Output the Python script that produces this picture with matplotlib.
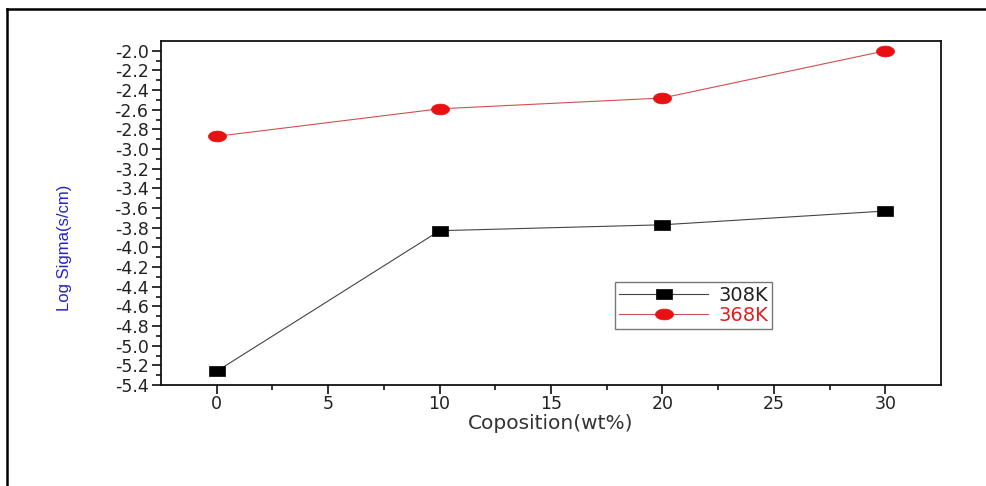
import numpy as np
import matplotlib
matplotlib.use("Agg")
from matplotlib import pyplot as plt
from matplotlib.lines import Line2D

composition = [0, 10, 20, 30]
sigma_308 = [-5.26, -3.83, -3.77, -3.63]
sigma_368 = [-2.87, -2.59, -2.48, -2.00]
series_labels = ["308K", "368K"]

plt.rcParams['font.family'] = ['DejaVu Sans']

# wide markers (the source picture is stretched sideways)
rect_marker = [(-1, -0.55), (1, -0.55), (1, 0.55), (-1, 0.55), (-1, -0.55)]
t = np.linspace(0, 2 * np.pi, 40)
ellipse_marker = list(zip(np.cos(t), 0.6 * np.sin(t)))

fig = plt.figure(figsize=(9.86, 4.86), dpi=100)
ax = fig.add_axes([161 / 986, 1 - 385 / 486, 780 / 986, 344 / 486])

ax.plot(composition, sigma_308, color="#444444", lw=0.8, marker=rect_marker, ms=12,
        mfc="black", mec="black", mew=0.5, label=series_labels[0])
ax.plot(composition, sigma_368, color="#d05050", lw=0.8, marker=ellipse_marker, ms=13,
        mfc="#e81010", mec="#e81010", mew=0.5, label=series_labels[1])

ax.set_xlim(-2.5, 32.5)
ax.set_ylim(-5.4, -1.9)
ax.set_xticks([0, 5, 10, 15, 20, 25, 30])
ax.set_xticks([2.5, 7.5, 12.5, 17.5, 22.5, 27.5], minor=True)
yt = [round(-5.4 + 0.2 * i, 1) for i in range(18)]
ax.set_yticks(yt)
ax.set_yticklabels(["%.1f" % v for v in yt])
ax.set_yticks([round(-5.3 + 0.2 * i, 1) for i in range(17)], minor=True)

ax.tick_params(which="major", direction="out", length=6.5, width=1.3,
               labelsize=12.5, colors="#222222", top=False, right=False)
ax.tick_params(axis="x", which="major", pad=1.0)
ax.tick_params(axis="y", which="major", pad=2.5)
ax.tick_params(which="minor", direction="out", length=3.5, width=1.1,
               top=False, right=False)
for s in ax.spines.values():
    s.set_linewidth(1.3)
    s.set_color("#111111")

ax.set_xlabel("Coposition(wt%)", fontsize=14.5, color="#333333")
ax.xaxis.set_label_coords(0.5, -0.085)
ax.set_ylabel("Log Sigma(s/cm)", fontsize=12, color="#2424c4",
              family=["Liberation Sans"])
ax.yaxis.set_label_coords(-0.114, 0.398)

leg = ax.legend(loc="upper left", bbox_to_anchor=((615 - 161) / 780, (385 - 282) / 344),
                fontsize=14, frameon=True, fancybox=False, edgecolor="#555555",
                handlelength=4.6, handletextpad=0.5, labelspacing=0.05,
                borderpad=0.2, borderaxespad=0)
leg.get_frame().set_linewidth(1.0)
leg.get_texts()[0].set_color("#222222")
leg.get_texts()[1].set_color("#e02020")

# outer frame of the picture
fig.add_artist(Line2D([7 / 986, 7 / 986], [0, 1 - 9 / 486], color="black", lw=1.8,
                      transform=fig.transFigure))
fig.add_artist(Line2D([7 / 986, 1], [1 - 9 / 486, 1 - 9 / 486], color="black", lw=1.8,
                      transform=fig.transFigure))

fig.savefig("out.png", dpi=100)
